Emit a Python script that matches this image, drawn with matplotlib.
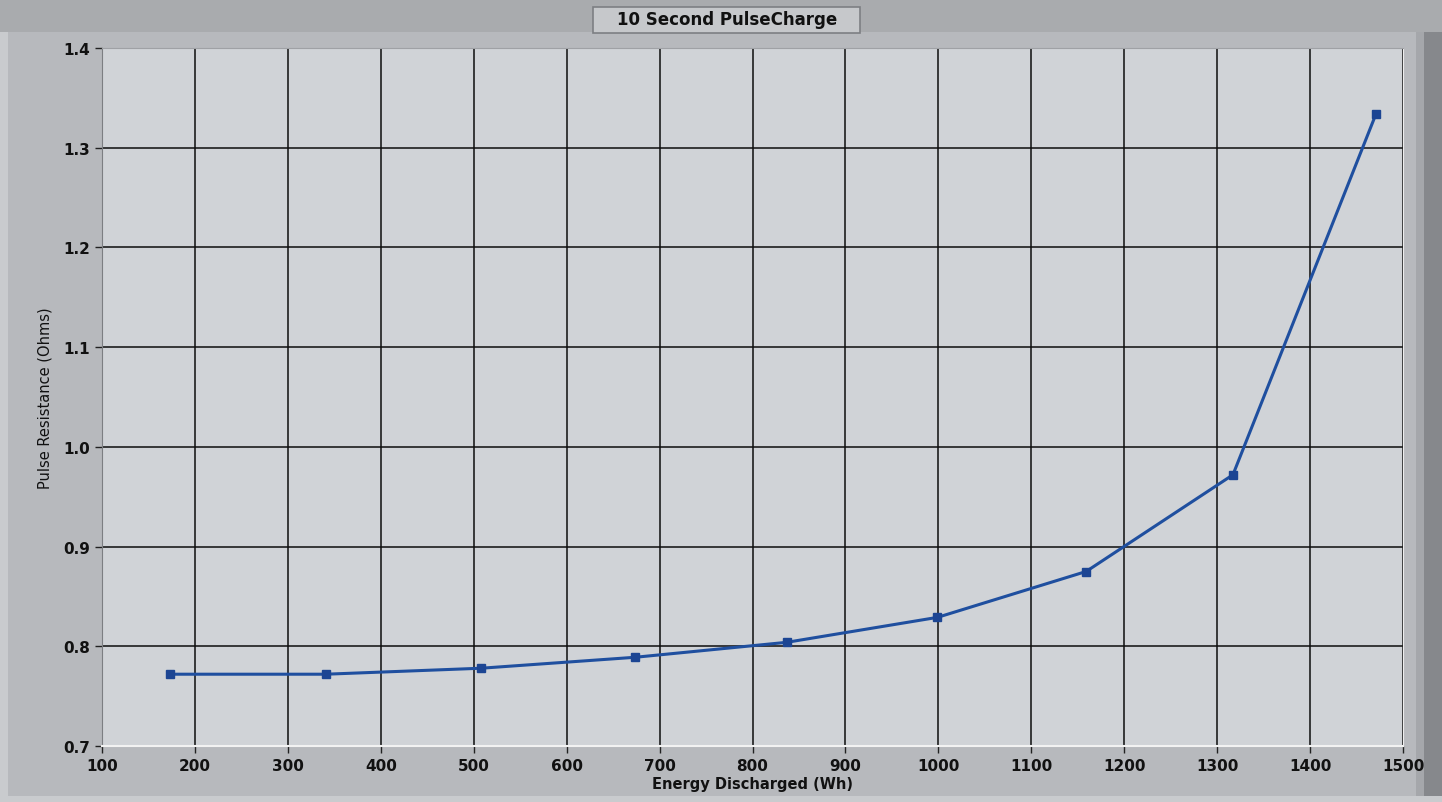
import matplotlib
matplotlib.use("Agg")
import matplotlib.pyplot as plt
from matplotlib.patches import Rectangle, FancyBboxPatch

# datos
energy_wh = [173, 341, 508, 674, 837, 999, 1159, 1317, 1471]
resistance_ohm = [0.772, 0.772, 0.778, 0.789, 0.804, 0.829, 0.875, 0.972, 1.334]
x_ticks = [100, 200, 300, 400, 500, 600, 700, 800, 900, 1000, 1100, 1200, 1300, 1400, 1500]
y_ticks = [0.7, 0.8, 0.9, 1.0, 1.1, 1.2, 1.3, 1.4]

title = "10 Second PulseCharge"
x_label = "Energy Discharged (Wh)"
y_label = "Pulse Resistance (Ohms)"

fig = plt.figure(figsize=(14.42, 8.03), dpi=100)
fig.patch.set_facecolor("#b7b9bd")

# marco tipo panel (detras de los ejes)
fig.patches.append(Rectangle((0, 1 - 33 / 803), 1, 33 / 803, transform=fig.transFigure,
                             facecolor="#a9abae", edgecolor="none", zorder=-1))
fig.patches.append(Rectangle((0, 0), 8 / 1442, 1 - 33 / 803, transform=fig.transFigure,
                             facecolor="#c9cbce", edgecolor="none", zorder=-1))
fig.patches.append(Rectangle((1 - 26 / 1442, 0), 8 / 1442, 1 - 33 / 803, transform=fig.transFigure,
                             facecolor="#a5a7ab", edgecolor="none", zorder=-1))
fig.patches.append(Rectangle((1 - 18 / 1442, 0), 18 / 1442, 1 - 33 / 803, transform=fig.transFigure,
                             facecolor="#86888c", edgecolor="none", zorder=-1))
fig.patches.append(Rectangle((0, 0), 1, 6 / 803, transform=fig.transFigure,
                             facecolor="#c9cbce", edgecolor="none", zorder=-1))

# boton del titulo
fig.patches.append(FancyBboxPatch((593 / 1442, 1 - 34 / 803), 267 / 1442, 26 / 803,
                                  boxstyle="square,pad=0", transform=fig.transFigure,
                                  facecolor="#c6c8cb", edgecolor="#7d7f83", linewidth=1.2, zorder=1))
fig.text(727 / 1442, 1 - 20 / 803, title, ha="center", va="center",
         fontsize=12, fontweight="semibold", color="#111111", zorder=2)

ax = fig.add_axes([102 / 1442, 1 - 747 / 803, (1403 - 102) / 1442, (747 - 49) / 803])
ax.set_facecolor("#d0d3d7")

ax.plot(energy_wh, resistance_ohm, color="#1f4f9f", linewidth=2.2,
        marker="s", markersize=6, markerfacecolor="#1c4593", markeredgecolor="#1c4593", zorder=3)

ax.set_xlim(100, 1500)
ax.set_ylim(0.7, 1.4)
ax.set_xticks(x_ticks)
ax.set_yticks(y_ticks)
ax.set_xticklabels([str(v) for v in x_ticks])
ax.set_yticklabels([f"{v:.1f}" for v in y_ticks])
ax.grid(True, color="#0d0d0d", linewidth=1.1)
ax.set_axisbelow(True)

ax.tick_params(axis="both", direction="out", length=5, width=1, color="#222222",
               labelsize=11, labelcolor="#111111")
ax.tick_params(axis="x", pad=4)
for lab in ax.get_xticklabels() + ax.get_yticklabels():
    lab.set_fontweight("bold")

ax.set_xlabel(x_label, fontsize=10.5, fontweight="bold", color="#111111", labelpad=2)
ax.set_ylabel(y_label, fontsize=10.5, color="#111111", labelpad=8)

ax.spines["left"].set_color("#7c7e82")
ax.spines["bottom"].set_color("#f2f2f2")
ax.spines["bottom"].set_linewidth(1.5)
ax.spines["top"].set_color("#9fa1a5")
ax.spines["right"].set_color("#eeeeee")

fig.savefig("out.png", dpi=100, facecolor=fig.get_facecolor())
